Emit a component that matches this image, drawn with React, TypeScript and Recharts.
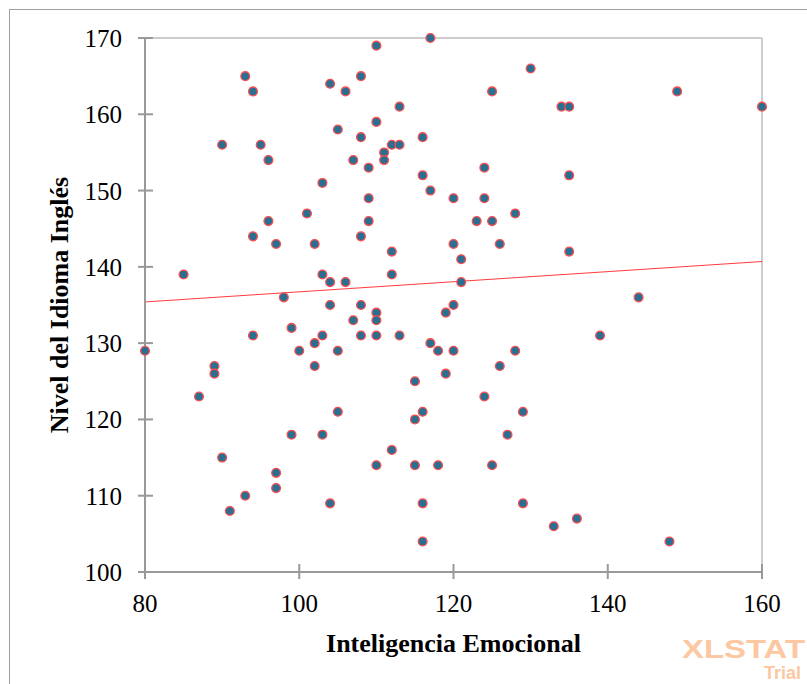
import React from "react";
import {
  ScatterChart,
  Scatter,
  XAxis,
  YAxis,
  ReferenceLine,
  Label,
} from "recharts";

// Inteligencia Emocional (x) and Nivel del Idioma Inglés (y), read point by point
const emotionalIntelligence = [
  80, 85, 87, 89, 89, 90, 90, 91, 93, 93,
  94, 94, 94, 95, 96, 96, 97, 97, 97, 98,
  99, 99, 100, 101, 102, 102, 102, 103, 103, 103,
  103, 104, 104, 104, 104, 105, 105, 105, 106, 106,
  107, 107, 108, 108, 108, 108, 108, 109, 109, 109,
  110, 110, 110, 110, 110, 110, 111, 111, 112, 112,
  112, 112, 113, 113, 113, 115, 115, 115, 116, 116,
  116, 116, 116, 117, 117, 117, 118, 118, 119, 119,
  120, 120, 120, 120, 121, 121, 123, 124, 124, 124,
  125, 125, 125, 126, 126, 127, 128, 128, 129, 129,
  130, 133, 134, 135, 135, 135, 136, 139, 144, 148,
  149, 160,
];

const englishLevel = [
  129, 139, 123, 127, 126, 156, 115, 108, 165, 110,
  163, 144, 131, 156, 154, 146, 143, 113, 111, 136,
  132, 118, 129, 147, 143, 130, 127, 151, 139, 131,
  118, 164, 138, 135, 109, 158, 129, 121, 163, 138,
  154, 133, 165, 157, 144, 135, 131, 153, 149, 146,
  169, 159, 134, 133, 131, 114, 155, 154, 156, 142,
  139, 116, 161, 156, 131, 125, 120, 114, 157, 152,
  121, 109, 104, 170, 150, 130, 129, 114, 134, 126,
  149, 143, 135, 129, 141, 138, 146, 153, 149, 123,
  163, 146, 114, 143, 127, 118, 147, 129, 121, 109,
  166, 106, 161, 161, 152, 142, 107, 131, 136, 104,
  163, 161,
];

// trend line ends as drawn in the picture
const trendX = [80, 160];
const trendY = [135.4, 140.7];

const xTicks = [80, 100, 120, 140, 160];
const yTicks = [100, 110, 120, 130, 140, 150, 160, 170];

const points = emotionalIntelligence.map((x, i) => ({ x, y: englishLevel[i] }));

const AXIS = "#999";
const SERIF = "'Liberation Serif', 'Times New Roman', serif";
const TICK_OUT = 7;

const XTick = (props: any) => {
  const { x, y, payload } = props;
  const axisY = y - TICK_OUT;
  return (
    <g>
      <line x1={x} x2={x} y1={axisY - 8} y2={axisY + TICK_OUT} stroke={AXIS} strokeWidth={2} />
      <text x={x} y={axisY + 40} textAnchor="middle" fontSize={25} fontFamily={SERIF} fill="#000">
        {payload.value}
      </text>
    </g>
  );
};

const YTick = (props: any) => {
  const { x, y, payload } = props;
  const axisX = x + TICK_OUT;
  return (
    <g>
      <line x1={axisX - TICK_OUT} x2={axisX + 8} y1={y} y2={y} stroke={AXIS} strokeWidth={2} />
      <text x={axisX - 23} y={y + 9} textAnchor="end" fontSize={25} fontFamily={SERIF} fill="#000">
        {payload.value}
      </text>
    </g>
  );
};

const Dot = (props: any) => (
  <circle cx={props.cx} cy={props.cy} r={4.4} fill="#2a6e92" stroke="#ff4d4d" strokeWidth={1.3} />
);

export default function App() {
  return (
    <div style={{ position: "absolute", left: 0, top: 0, width: 807, height: 684, background: "#fff" }}>
      <ScatterChart width={807} height={684} margin={{ top: 38, right: 45, bottom: 52, left: 65 }}>
        <XAxis
          type="number"
          dataKey="x"
          domain={[80, 160]}
          ticks={xTicks}
          height={60}
          tickSize={TICK_OUT}
          tickMargin={0}
          tickLine={false}
          tick={<XTick />}
          axisLine={{ stroke: AXIS, strokeWidth: 2 }}
        >
          <Label
            value="Inteligencia Emocional"
            position="bottom"
            offset={2}
            style={{ fontFamily: SERIF, fontSize: 26, fontWeight: "bold", fill: "#000" }}
          />
        </XAxis>
        <YAxis
          type="number"
          dataKey="y"
          domain={[100, 170]}
          ticks={yTicks}
          width={80}
          tickSize={TICK_OUT}
          tickMargin={0}
          tickLine={false}
          tick={<YTick />}
          axisLine={{ stroke: AXIS, strokeWidth: 2 }}
        >
          <Label
            value="Nivel del Idioma Inglés"
            position="insideLeft"
            angle={-90}
            offset={-6}
            style={{ fontFamily: SERIF, fontSize: 26, fontWeight: "bold", fill: "#000", textAnchor: "middle" }}
          />
        </YAxis>
        <ReferenceLine y={170} stroke="#ccc" strokeWidth={2} />
        <ReferenceLine x={160} stroke="#ccc" strokeWidth={2} />
        <ReferenceLine
          segment={[
            { x: trendX[0], y: trendY[0] },
            { x: trendX[1], y: trendY[1] },
          ]}
          stroke="#ff3b3b"
          strokeWidth={1}
        />
        <Scatter data={points} shape={<Dot />} isAnimationActive={false} />
      </ScatterChart>
      <svg
        width={807}
        height={684}
        style={{ position: "absolute", left: 0, top: 0, pointerEvents: "none" }}
      >
        <rect x={9.5} y={9.5} width={900} height={900} fill="none" stroke="#a0a0a0" strokeWidth={1} />
        <text
          x={682}
          y={658}
          fontFamily="'Liberation Sans', Arial, sans-serif"
          fontWeight="bold"
          fontSize={25}
          fill="#fcc8a2"
          textLength={123}
          lengthAdjust="spacingAndGlyphs"
        >
          XLSTAT
        </text>
        <text
          x={764}
          y={679}
          fontFamily="'Liberation Sans', Arial, sans-serif"
          fontWeight="bold"
          fontSize={18}
          fill="#fcc8a2"
        >
          Trial
        </text>
      </svg>
    </div>
  );
}
